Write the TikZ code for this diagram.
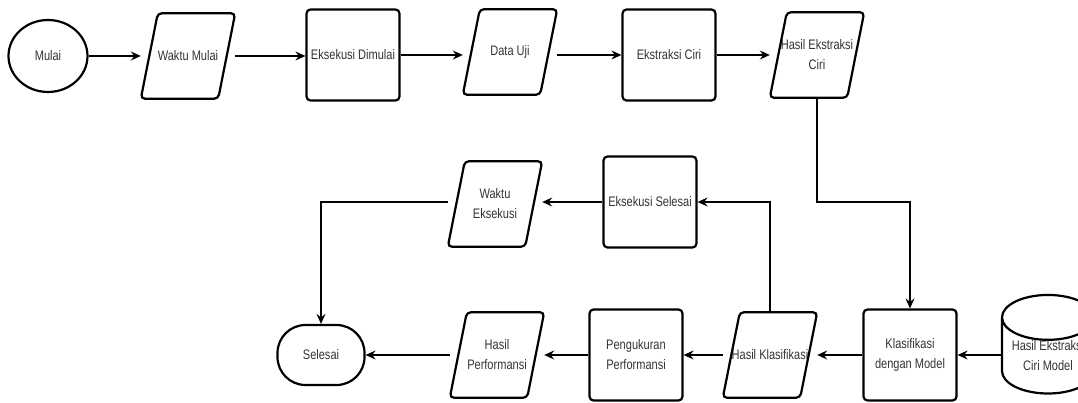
\documentclass[tikz,border=0pt]{standalone}
\usepackage{fontspec}
\setmainfont{Liberation Sans}[FakeStretch=0.8]
\usetikzlibrary{arrows.meta, shapes.geometric}

% garis jajar genjang di sekitar node io
\newcommand{\iobox}[1]{\draw[line width=2.2pt, rounded corners=4pt] (#1.south west) -- ([xshift=17pt]#1.north west) -- (#1.north east) -- ([xshift=-17pt]#1.south east) -- cycle;}

\begin{document}
\begin{tikzpicture}[x=1pt, y=1pt, font=\fontsize{13.8}{20}\selectfont]
		\tikzstyle{proc} = [draw, line width=2.2pt, rounded corners=4pt, minimum width=93, minimum height=91, inner sep=0pt, align=center, text=black!80]
		\tikzstyle{io} = [minimum width=94, minimum height=85, inner sep=0pt, align=center, text=black!80]
		\tikzstyle{round} = [draw, line width=2.2pt, ellipse, minimum width=79, minimum height=72, inner sep=0pt, text=black!80]
		\tikzstyle{term} = [draw, line width=2.2pt, rounded corners=28pt, minimum width=87, minimum height=60, inner sep=0pt, text=black!80]
		\tikzstyle{store} = [draw, line width=2.2pt, cylinder, shape border rotate=90, aspect=0.62, minimum width=92, minimum height=96, inner sep=0pt, align=center, text=black!80]
		\tikzstyle{arrow} = [line width=1.2pt, -{Stealth[length=10pt, width=9pt, inset=3.5pt]}]

		\useasboundingbox (0, 0) rectangle (1078, 403);
		\clip (0, 0) rectangle (1078, 403);

		% baris atas
		\node[round] 	at (48, 347)		(mulai) 	{Mulai};
		\node[io] 		at (188, 347)		(wmulai) 	{Waktu Mulai};
		\node[proc] 	at (353, 348)		(exmulai) 	{Eksekusi Dimulai};
		\node[io] 		at (510, 351)		(datauji) 	{Data Uji};
		\node[proc] 	at (669, 348)		(ekstraksi) {Ekstraksi Ciri};
		\node[io] 		at (817, 348)		(hasilciri) {Hasil Ekstraksi\\Ciri};

		% baris tengah
		\node[proc] 	at (650, 201)		(exselesai) {Eksekusi Selesai};
		\node[io] 		at (495, 199)		(wekse) 	{Waktu\\Eksekusi};

		% baris bawah
		\node[term] 	at (321, 48)		(selesai) 	{Selesai};
		\node[io] 		at (497, 48)		(hperf) 	{Hasil\\Performansi};
		\node[proc] 	at (636, 48)		(pengukuran) {Pengukuran\\Performansi};
		\node[io] 		at (770, 48)		(hklas) 	{Hasil Klasifikasi};
		\node[proc] 	at (910, 48)		(klasifikasi) {Klasifikasi\\dengan Model};
		\node[store] 	at (1048, 47)		(model) 	{Hasil Ekstraksi\\Ciri Model};

		\iobox{wmulai}
		\iobox{datauji}
		\iobox{hasilciri}
		\iobox{wekse}
		\iobox{hperf}
		\iobox{hklas}

		\coordinate (turn) at (910, 201);

		\draw[arrow] (mulai) -- (mulai -| wmulai.west);
		\draw[arrow] (wmulai) -- (wmulai -| exmulai.west);
		\draw[arrow] (exmulai) -- (exmulai -| datauji.west);
		\draw[arrow] (ekstraksi -| datauji.east) -- (ekstraksi);
		\draw[arrow] (ekstraksi) -- (hasilciri);
		\draw[arrow] (hasilciri.south) |- (turn) -- (klasifikasi.north);
		\draw[arrow] (model.west |- klasifikasi) -- (klasifikasi);
		\draw[arrow] (klasifikasi) -- (hklas);
		\draw[arrow] (hklas) -- (pengukuran);
		\draw[arrow] (pengukuran) -- (hperf);
		\draw[arrow] (hperf) -- (selesai);
		\draw[arrow] (hklas.north) |- (exselesai.east);
		\draw[arrow] (exselesai) -- (exselesai -| wekse.east);
		\draw[arrow] (exselesai -| wekse.west) -| (selesai.north);
	\end{tikzpicture}
\end{document}
